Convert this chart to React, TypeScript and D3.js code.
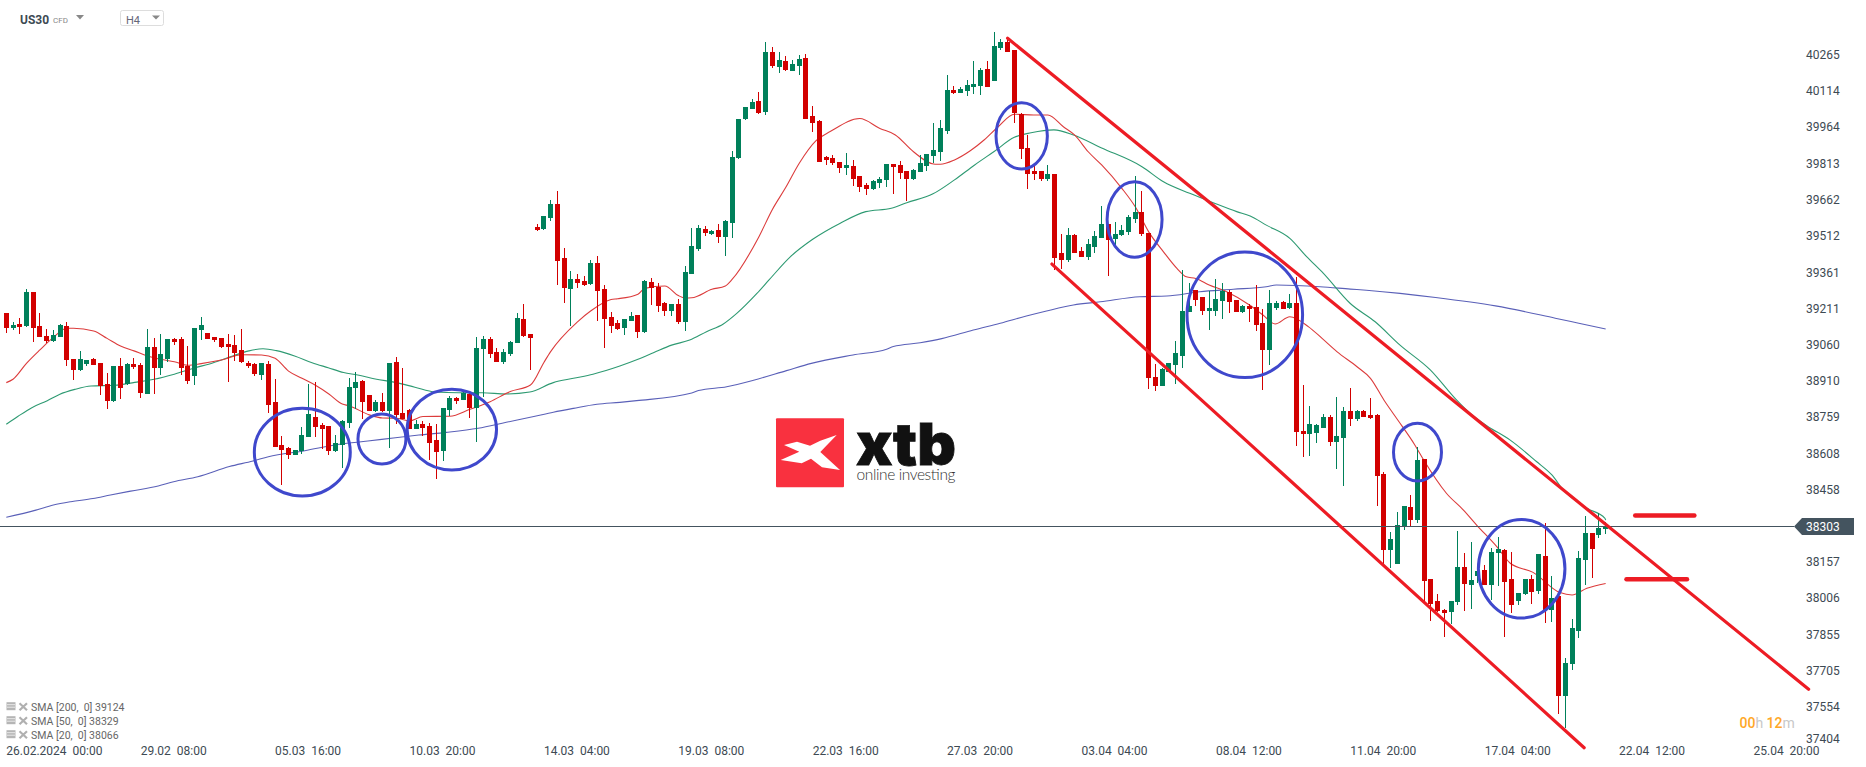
import React from 'react';
import * as d3 from 'd3';

const WIDTH = 1866;
const HEIGHT = 767;

const opens = [
  39191,39128,39145,39137,39278,39137,39095,39074,39091,39137,
  38999,38954,38979,38999,38983,38895,38825,38970,38895,38979,
  38974,38854,39049,38962,38999,39083,39083,38970,38929,39120,
  39107,39091,39087,39062,39058,39037,38983,38979,38933,38979,
  38821,38642,38629,38600,38617,38675,38758,38725,38721,38617,
  38642,38733,38879,38908,38850,38783,38821,38783,38987,38775,
  38787,38708,38729,38721,38663,38617,38787,38837,38829,38854,
  38796,39041,39083,39028,38987,39020,39066,39166,39103,39548,
  39540,39585,39644,39419,39290,39332,39323,39311,39398,39290,
  39174,39149,39128,39157,39182,39111,39319,39298,39232,39199,
  39228,39153,39353,39457,39540,39519,39535,39506,39565,39835,
  39997,40039,40072,40026,40276,40214,40239,40197,40218,40251,
  40010,39989,39839,39835,39819,39794,39802,39760,39723,39706,
  39731,39744,39810,39806,39781,39748,39777,39802,39843,39860,
  39947,40118,40105,40114,40130,40135,40205,40155,40293,40318,
  40284,40018,39876,39781,39781,39747,39768,39440,39411,39515,
  39448,39423,39465,39502,39560,39498,39515,39527,39581,39610,
  39523,38924,38887,38945,38974,39012,39194,39286,39257,39199,
  39199,39240,39278,39244,39194,39219,39215,39149,39036,39211,
  39236,39211,39232,38700,38688,38692,38713,38759,38655,38671,
  38784,38750,38784,38767,38767,38521,38205,38147,38301,38384,
  38330,38584,38085,37993,37956,37948,37989,38135,38060,38097,
  38122,38060,38193,38205,38085,37993,38022,38085,38035,38180,
  37956,38014,37598,37731,37868,38164,38276,38268,38293,
];

const closes = [
  39128,39141,39132,39278,39128,39091,39074,39099,39141,38995,
  38954,38999,38995,38974,38887,38825,38970,38879,38979,38966,
  38858,39049,38962,39020,39083,39070,38962,38908,39128,39141,
  39083,39078,39049,39049,39024,38987,38970,38937,38983,38808,
  38633,38621,38600,38621,38683,38771,38717,38708,38617,38650,
  38742,38883,38904,38821,38783,38821,38783,38983,38767,38750,
  38708,38729,38712,38650,38613,38796,38837,38825,38858,38796,
  39045,39083,39020,38987,39028,39070,39170,39095,39087,39535,
  39594,39644,39407,39294,39332,39315,39307,39398,39282,39165,
  39136,39124,39165,39178,39111,39323,39294,39220,39199,39228,
  39153,39361,39469,39544,39523,39531,39506,39573,39839,39998,
  40047,40068,40022,40276,40218,40243,40201,40226,40247,39998,
  39981,39819,39827,39814,39794,39806,39748,39715,39706,39740,
  39748,39810,39798,39773,39748,39785,39814,39852,39868,39960,
  40118,40105,40122,40139,40143,40201,40130,40301,40318,40276,
  40022,39872,39768,39768,39747,39768,39419,39411,39515,39440,
  39423,39477,39510,39560,39494,39519,39535,39589,39610,39519,
  38920,38887,38957,38982,39024,39199,39219,39244,39199,39211,
  39249,39282,39236,39194,39219,39207,39140,39036,39232,39232,
  39207,39232,38696,38688,38729,38725,38759,38655,38680,38784,
  38750,38784,38759,38754,38513,38205,38251,38309,38388,38330,
  38580,38076,37981,37952,37943,37993,38135,38064,38081,38118,
  38060,38197,38209,38072,37977,38027,38085,38031,38189,37956,
  38006,37598,37735,37881,38172,38276,38209,38297,38303,
];

const highs = [
  39191,39153,39170,39290,39278,39191,39124,39120,39145,39153,
  38999,39033,38995,39004,38983,38941,38970,39004,38983,39004,
  38983,39124,39087,39103,39083,39087,39091,39053,39128,39174,
  39107,39091,39087,39103,39099,39124,38990,38983,38983,38991,
  38916,38679,38633,38621,38717,38895,38904,38733,38721,38683,
  38746,38920,38945,38912,38850,38829,38858,38983,39008,38962,
  38791,38746,38742,38733,38729,38796,38846,38841,38866,38862,
  39091,39095,39091,39045,39041,39074,39191,39228,39103,39560,
  39594,39660,39698,39461,39365,39353,39344,39411,39427,39307,
  39195,39161,39165,39195,39182,39328,39336,39315,39236,39228,
  39249,39386,39544,39556,39552,39535,39560,39577,39864,39998,
  40047,40081,40110,40318,40297,40276,40259,40243,40263,40268,
  40051,39993,39843,39848,39819,39856,39827,39760,39731,39744,
  39756,39810,39810,39823,39781,39789,39848,39852,39981,39993,
  40180,40135,40130,40160,40239,40209,40239,40359,40330,40326,
  40284,40022,39930,39806,39781,39806,39768,39519,39544,39519,
  39465,39498,39531,39635,39560,39569,39556,39598,39760,39698,
  39523,38978,38962,38982,39074,39369,39315,39286,39257,39282,
  39332,39315,39286,39244,39224,39228,39307,39207,39286,39240,
  39240,39269,39340,38892,38804,38729,38771,38767,38842,38800,
  38879,38788,38788,38838,38771,38530,38280,38363,38388,38434,
  38634,38584,38085,38022,37960,37993,38284,38193,38239,38118,
  38143,38214,38259,38209,38197,38027,38085,38101,38189,38318,
  38097,38014,37756,37918,38201,38347,38276,38359,38322,
];

const lows = [
  39109,39121,39103,39132,39070,39091,39066,39071,39091,38970,
  38912,38949,38970,38974,38850,38791,38821,38833,38891,38958,
  38837,38854,38854,38933,38987,39058,38933,38895,38891,39078,
  39083,39070,39045,38904,38991,38983,38962,38929,38912,38775,
  38633,38475,38584,38600,38604,38675,38675,38625,38600,38613,
  38546,38712,38791,38750,38783,38779,38779,38629,38729,38750,
  38708,38708,38679,38579,38500,38575,38762,38812,38829,38754,
  38654,38841,39004,38987,38979,39012,39066,39091,38954,39531,
  39535,39573,39307,39232,39136,39294,39303,39307,39157,39045,
  39107,39120,39099,39157,39086,39107,39224,39195,39178,39178,
  39145,39116,39353,39448,39511,39515,39481,39427,39503,39831,
  39993,40039,40018,40014,40209,40189,40197,40197,40180,39998,
  39943,39819,39806,39806,39773,39765,39719,39694,39681,39702,
  39710,39715,39686,39748,39656,39744,39777,39781,39814,39823,
  39935,40101,40105,40093,40101,40097,40130,40155,40284,40276,
  39980,39831,39706,39743,39739,39739,39369,39373,39402,39440,
  39423,39411,39440,39502,39344,39473,39510,39515,39565,39510,
  38874,38866,38887,38945,38895,38962,39194,39219,39182,39120,
  39178,39165,39190,39194,39190,39153,39115,38870,38974,39203,
  39207,39207,38638,38592,38596,38650,38713,38638,38542,38472,
  38721,38742,38759,38750,38389,38147,38130,38147,38288,38305,
  38318,37989,37910,37948,37844,37898,37977,37952,37960,38068,
  38060,37997,38056,37844,37943,37977,38018,37981,38022,37902,
  37906,37523,37465,37706,37839,38060,38089,38255,38272,
];

// moving averages, read at the bars where the curve changes direction
const sma20Bars = [0,1,3,5,7,9,10,13,15,17,19,21,23,25,27,29,32,35,38,40,42,44,46,48,50,51,54,56,58,60,62,66,69,72,75,78,80,81,85,87,90,91,94,95,98,100,101,102,105,107,108,112,114,116,118,120.5,122.6,127,130,132.3,135,138.2,139,141.1,143.5,145.5,147.6,150,152.9,155,157.3,159,161,163,166,168,170,172.2,174.2,175.6,177,179,181.6,185,187,188.8,191,193.8,195.8,198,201,203,205,206.7,209.6,210.9,214.3,216.8,218.8,221.8,223.8,227.2,231.2,233,235.2,238];
const sma20Values = [38901,38915,38981,39037,39089,39127,39127,39116,39085,39053,39033,39012,38998,38988,38973,38980,38995,39017,39016,39002,38949,38919,38890,38854,38812,38805,38767,38754,38753,38742,38760,38761,38790,38822,38864,38891,38985,39030,39154,39200,39247,39250,39269,39293,39303,39263,39253,39254,39289,39303,39330,39508,39621,39713,39813,39907,39945,39999,39958,39931,39861,39809,39809,39827,39866,39910,39965,40017,40014,40014,39965,39930,39861,39806,39709,39632,39528,39445,39376,39341,39334,39307,39279,39224,39182,39145,39175,39133,39085,39030,38967,38919,38829,38760,38642,38580,38441,38372,38309,38219,38150,38112,38028,38018,38046,38066];

const sma50Bars = [0,1.7,3.8,6.1,7.9,10.2,12.6,16.1,19.1,22,25,27.9,30.8,33.8,36.1,38.2,40.2,42.9,45.5,47.9,50.2,52.3,54.9,57.9,60.8,63.8,67.3,70.8,74.4,77.9,81.4,84.4,87.3,91.3,94,96.3,99,101.7,104.2,106.7,108.7,111.7,113.5,116.7,120,124.1,127.9,131.7,134,137.9,141.1,144.1,147,150,152.5,155.9,158.8,163,169,172.2,176.1,179.6,183.1,185.1,187.5,191,193.5,196,200,203.7,207.4,211.9,215.8,217.8,220.3,223.8,227.7,230,231.7,235.2,237.9,238];
const sma50Values = [38728,38760,38797,38826,38852,38873,38887,38890,38902,38915,38936,38961,38984,39013,39033,39042,39034,39012,38984,38963,38943,38933,38916,38902,38882,38862,38859,38859,38854,38862,38901,38919,38936,38970,38998,39025,39057,39078,39113,39145,39189,39272,39328,39425,39497,39564,39612,39626,39649,39686,39744,39806,39862,39921,39940,39952,39931,39877,39799,39736,39688,39649,39612,39594,39556,39501,39425,39355,39230,39154,39057,38954,38829,38774,38722,38662,38573,38517,38455,38379,38337,38329];

const sma200Bars = [0,4.4,7,9.6,12.9,15.5,18.5,22.6,24.9,28.5,33.2,36.7,39,44.4,49.6,53.8,57.9,61.4,65.5,70.2,74.4,78.5,81.4,84.4,87.9,91.3,93.8,102,103,107.2,111.2,116.1,119.8,126,131,132,136,139.2,143.9,147.9,151.8,154.8,158.8,162.8,168.7,172.7,177.6,182.6,187.5,189,195.5,200,202.4,207.4,212.7,221.6,230.5,234,238];
const sma200Values = [38341,38371,38392,38406,38419,38434,38450,38471,38489,38510,38552,38575,38593,38618,38645,38658,38672,38683,38694,38711,38736,38760,38778,38794,38811,38819,38826,38858,38868,38884,38911,38951,38981,39016,39040,39051,39067,39084,39120,39148,39178,39199,39224,39237,39258,39261,39279,39289,39300,39307,39300,39290,39285,39272,39255,39220,39169,39148,39124];

const priceTicks = [40265,40114,39964,39813,39662,39512,39361,39211,39060,38910,38759,38608,38458,38157,38006,37855,37705,37554,37404];
const currentPrice = 38303;

const dateLabels = ['26.02.2024  00:00','29.02  08:00','05.03  16:00','10.03  20:00','14.03  04:00','19.03  08:00','22.03  16:00','27.03  20:00','03.04  04:00','08.04  12:00','11.04  20:00','17.04  04:00','22.04  12:00','25.04  20:00'];
const legendLabels = ['SMA [200,  0] 39124','SMA [50,  0] 38329','SMA [20,  0] 38066'];

// hand drawn annotations, in bar number / price
const trendFromBar = [149, 155.6, 242.4, 241.1];
const trendFromPrice = [40333, 39394, 38349, 38083];
const trendToBar = [268.2, 234.8, 251.2, 250.1];
const trendToPrice = [37626, 37383, 38349, 38083];
const trendWidths = [3.2, 3.2, 4.5, 4.5];

const circleBars = [44.05, 55.9, 66.3, 151.1, 167.9, 184.3, 210, 225.5];
const circlePrices = [38612, 38667, 38706, 39927, 39579, 39183, 38612, 38127];
const circleBarRadius = [7.14, 3.57, 6.65, 3.82, 4.09, 8.6, 3.57, 6.44];
const circlePriceRadius = [182, 104, 168, 138, 157, 261, 120, 205];

const UP = '#00805a';
const DOWN = '#d20000';
const TEXT = '#3d4a53';
const FONT = 'Roboto, sans-serif';

const x = d3.scaleLinear().domain([0, 238]).range([6.3, 1605.66]);
const y = d3.scaleLinear().domain([40492, 37404]).range([0, 742.66]);

const smaPath = (bars: number[], values: number[]) =>
  d3.line<number>()
    .x((b) => x(b))
    .y((_, i) => y(values[i]))
    .curve(d3.curveMonotoneX)(bars) || '';

const App: React.FC = () => {
  return (
    <svg
      width={WIDTH}
      height={HEIGHT}
      style={{ position: 'absolute', left: 0, top: 0, background: '#fff', display: 'block' }}
      fontFamily={FONT}
    >
      {/* header */}
      <text x={20} y={23.5} fontSize={12} fontWeight={700} fill={TEXT}>US30</text>
      <text x={53} y={22.5} fontSize={8} fill="#888">CFD</text>
      <path d="M76,15H84L80,19.5Z" fill="#888" />
      <rect x={120.5} y={10.5} width={43} height={15} rx={2} fill="none" stroke="#ddd" />
      <text x={126} y={23.5} fontSize={11} fill="#667">H4</text>
      <path d="M152,15.5H160L156,19.5Z" fill="#888" />

      {/* logo */}
      <g>
        <rect x={776} y={418.3} width={68} height={69} rx={1} fill="#f9313f" />
        <path
          d="M836.7,435L820.3,440.7L810,445.7L797,441.7L784,445L799.3,451.7L780.7,460L801.7,463.3L811,458.7L822,467.3L840,470L820.3,452Z"
          fill="#fff"
        />
        <text
          x={856}
          y={465}
          fontSize={58}
          fontWeight={900}
          fontFamily="Inter, sans-serif"
          fill="#111"
          stroke="#111"
          strokeWidth={0.8}
          textLength={100}
          lengthAdjust="spacingAndGlyphs"
        >
          xtb
        </text>
        <text x={856.5} y={480} fontSize={15.5} fontWeight={300} fontFamily="Lato, sans-serif" fill="#333" textLength={99}>online investing</text>
      </g>

      {/* moving averages */}
      <path d={smaPath(sma200Bars, sma200Values)} fill="none" stroke="#5a60b8" strokeWidth={1.1} />
      <path d={smaPath(sma50Bars, sma50Values)} fill="none" stroke="#2e9a72" strokeWidth={1.1} />
      <path d={smaPath(sma20Bars, sma20Values)} fill="none" stroke="#dc3c3c" strokeWidth={1.1} />

      {/* candles */}
      <g shapeRendering="crispEdges">
        {opens.map((open, i) => {
          const close = closes[i];
          const color = close >= open ? UP : DOWN;
          const left = Math.round(x(i) - 2.5);
          const top = y(Math.max(open, close));
          const bottom = y(Math.min(open, close));
          return (
            <g key={i} fill={color}>
              <rect x={left + 2} y={y(highs[i])} width={1} height={y(lows[i]) - y(highs[i])} />
              <rect x={left} y={top} width={5} height={Math.max(bottom - top, 1)} />
            </g>
          );
        })}
      </g>

      {/* current price */}
      <line x1={0} x2={1794} y1={y(currentPrice)} y2={y(currentPrice)} stroke="#44545f" strokeWidth={1} shapeRendering="crispEdges" />
      <path
        d={`M1794,${y(currentPrice)}L1802,${y(currentPrice) - 8.5}H1854V${y(currentPrice) + 8.5}H1802Z`}
        fill="#44545f"
      />
      <text x={1806} y={y(currentPrice) + 4.5} fontSize={12} fill="#fff">{currentPrice}</text>

      {/* price labels */}
      {priceTicks.map((tick) => (
        <text key={tick} x={1806} y={Math.min(y(tick), 738) + 4.5} fontSize={12} fill={TEXT}>{tick}</text>
      ))}

      {/* date labels, one every 20 bars */}
      {dateLabels.map((label, i) => (
        <text key={label} x={x(i * 20)} y={755} fontSize={12} fill={TEXT} style={{ whiteSpace: 'pre' }}>{label}</text>
      ))}

      {/* indicator legend */}
      {legendLabels.map((label, i) => (
        <g key={label} transform={`translate(0, ${707.7 + i * 14})`}>
          <rect x={6.5} y={-5.5} width={9} height={8} fill="#b5b5b5" />
          <path d="M7,-3H15M7,-0.5H15" stroke="#fff" strokeWidth={0.7} />
          <path d="M19.5,-4.5L27,2.5M27,-4.5L19.5,2.5" stroke="#b0b0b0" strokeWidth={2.2} />
          <text x={31} y={3.5} fontSize={10.5} fill="#666" style={{ whiteSpace: 'pre' }}>{label}</text>
        </g>
      ))}

      {/* countdown */}
      <text x={1739.5} y={727.5} fontSize={14}>
        <tspan fill="#ffa726" fontWeight={500}>00</tspan>
        <tspan fill="#c8c8c8">h </tspan>
        <tspan fill="#ffa726" fontWeight={500}>12</tspan>
        <tspan fill="#c8c8c8">m</tspan>
      </text>

      {/* channel and levels */}
      {trendFromBar.map((bar, i) => (
        <line
          key={bar}
          x1={x(bar)}
          y1={y(trendFromPrice[i])}
          x2={x(trendToBar[i])}
          y2={y(trendToPrice[i])}
          stroke="#ed1c24"
          strokeWidth={trendWidths[i]}
          strokeLinecap="round"
        />
      ))}

      {/* circled reactions */}
      {circleBars.map((bar, i) => (
        <ellipse
          key={bar}
          cx={x(bar)}
          cy={y(circlePrices[i])}
          rx={x(circleBarRadius[i]) - x(0)}
          ry={y(0) - y(circlePriceRadius[i])}
          fill="none"
          stroke="#3f48cc"
          strokeWidth={3}
        />
      ))}
    </svg>
  );
};

export default App;
